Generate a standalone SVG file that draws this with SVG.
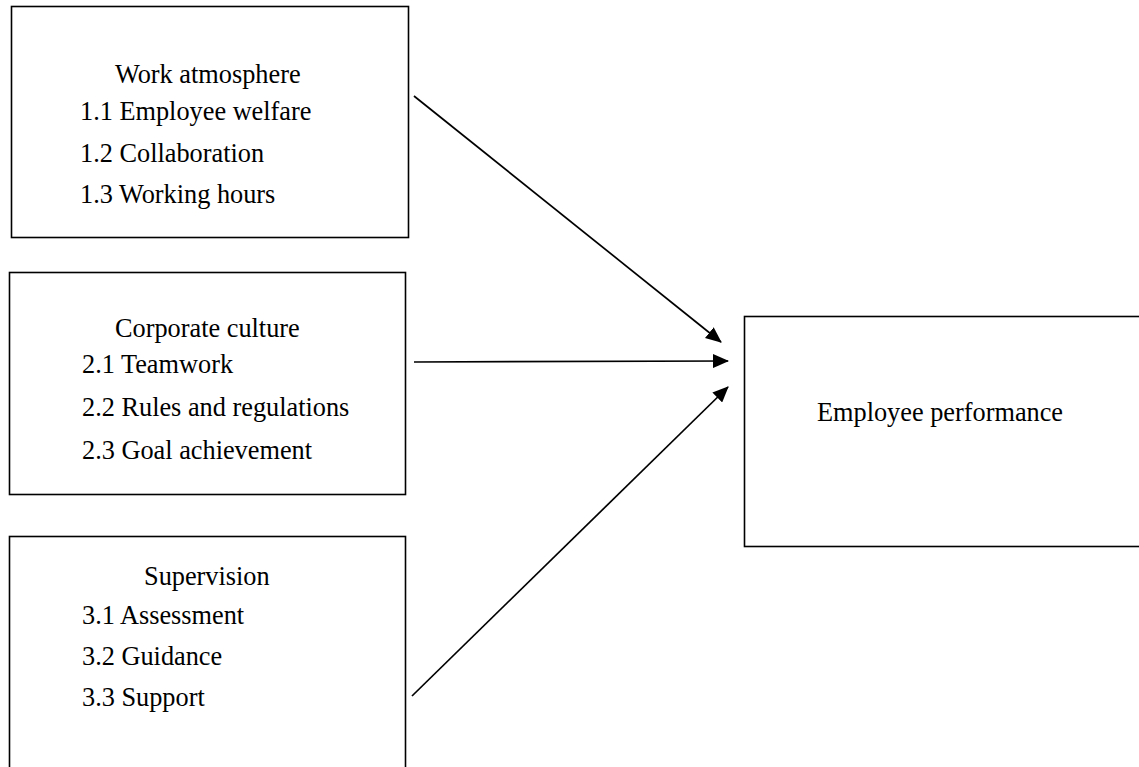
<svg xmlns="http://www.w3.org/2000/svg" width="1139" height="767" viewBox="0 0 1139 767">
<style>
.box{fill:#fff;stroke:#000;stroke-width:1.6}
.t{font-family:"Liberation Serif","Times New Roman",serif;font-size:26.3px;fill:#000}
.c{stroke:#000;stroke-width:1.7;fill:none}
</style>
<defs>
<marker id="a" markerWidth="16" markerHeight="14" refX="15" refY="7" orient="auto" markerUnits="userSpaceOnUse" viewBox="0 0 16 14">
<path d="M0,0 L16,7 L0,14 Z" fill="#000"/>
</marker>
</defs>
<rect width="1139" height="767" fill="#fff"/>
<g id="work-atmosphere">
<rect class="box" x="11.5" y="6.5" width="397" height="231"/>
<text class="t" x="115" y="83">Work atmosphere</text>
<text class="t" x="80" y="120">1.1 Employee welfare</text>
<text class="t" x="80" y="162">1.2 Collaboration</text>
<text class="t" x="80" y="203">1.3 Working hours</text>
</g>
<g id="corporate-culture">
<rect class="box" x="9.5" y="272.5" width="396" height="222"/>
<text class="t" x="115" y="337">Corporate culture</text>
<text class="t" x="82" y="373">2.1 Teamwork</text>
<text class="t" x="82" y="416">2.2 Rules and regulations</text>
<text class="t" x="82" y="459">2.3 Goal achievement</text>
</g>
<g id="supervision">
<rect class="box" x="9.5" y="536.5" width="396" height="250"/>
<text class="t" x="144" y="585">Supervision</text>
<text class="t" x="82" y="624">3.1 Assessment</text>
<text class="t" x="82" y="665">3.2 Guidance</text>
<text class="t" x="82" y="706">3.3 Support</text>
</g>
<g id="employee-performance">
<rect class="box" x="744.5" y="316.5" width="420" height="230"/>
<text class="t" x="817" y="421">Employee performance</text>
</g>
<g id="connectors">
<line class="c" x1="414" y1="96" x2="721" y2="342" marker-end="url(#a)"/>
<line class="c" x1="414" y1="362" x2="728" y2="361" marker-end="url(#a)"/>
<line class="c" x1="412" y1="696" x2="728" y2="387" marker-end="url(#a)"/>
</g>
</svg>
